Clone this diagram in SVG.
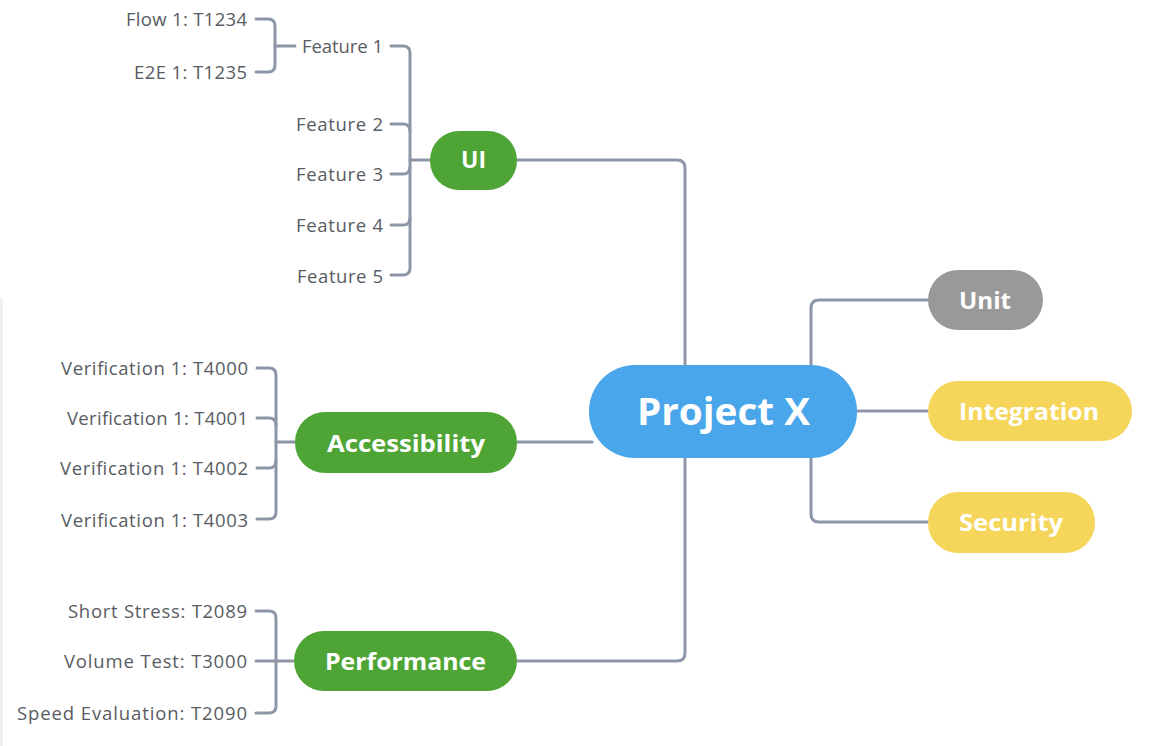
<svg xmlns="http://www.w3.org/2000/svg" width="1169" height="746" viewBox="0 0 1169 746">
  <style>
    .link { fill: none; stroke: #8d96a7; stroke-width: 3; stroke-linecap: round; stroke-linejoin: round; }
    .leaf { font-family: "Open Sans", Lato, sans-serif; font-size: 18.5px; fill: #585c62; text-anchor: end; dominant-baseline: central; }
    .label { font-family: "Open Sans", Lato, sans-serif; font-weight: 700; fill: #ffffff; text-anchor: middle; dominant-baseline: central; }
    .green { fill: #4ea535; }
    .yellow { fill: #f5d65a; }
    .grey { fill: #999999; }
    .blue { fill: #4aa6ea; }
  </style>

  <rect x="0" y="0" width="1169" height="746" fill="#ffffff"/>
  <rect x="0" y="297" width="3" height="449" fill="#f1f1f1"/>

  <!-- connectors -->
  <g id="connectors">
    <!-- root to main branches -->
    <path class="link" d="M517,160 H677 Q685,160 685,168 V366"/>
    <path class="link" d="M517,442 H592"/>
    <path class="link" d="M517,661 H677 Q685,661 685,653 V457"/>
    <path class="link" d="M811,366 V308 Q811,300 819,300 H929"/>
    <path class="link" d="M856,411 H929"/>
    <path class="link" d="M811,457 V514 Q811,522 819,522 H929"/>

    <!-- UI features -->
    <path class="link" d="M391,46 H403 Q410,46 410,53 V268 Q410,275 403,275 H391"/>
    <path class="link" d="M391,124 H403 Q410,124 410,131"/>
    <path class="link" d="M391,174 H403 Q410,174 410,167"/>
    <path class="link" d="M391,225 H403 Q410,225 410,218"/>
    <path class="link" d="M410,160 H431"/>

    <!-- Feature 1 tests -->
    <path class="link" d="M256,19 H268 Q275,19 275,26 V65 Q275,72 268,72 H256"/>
    <path class="link" d="M275,46 H295"/>

    <!-- Accessibility checks -->
    <path class="link" d="M257,368 H269 Q276,368 276,375 V512 Q276,519 269,519 H257"/>
    <path class="link" d="M257,418 H269 Q276,418 276,425"/>
    <path class="link" d="M257,468 H269 Q276,468 276,461"/>
    <path class="link" d="M276,442 H296"/>

    <!-- Performance tests -->
    <path class="link" d="M256,611 H269 Q276,611 276,618 V706 Q276,713 269,713 H256"/>
    <path class="link" d="M256,661 H295"/>
  </g>

  <!-- root -->
  <g id="project-x">
    <rect class="blue" x="589" y="365" width="268" height="93" rx="46"/>
    <text class="label" x="723.5" y="410" font-size="37" textLength="173" lengthAdjust="spacingAndGlyphs">Project X</text>
  </g>

  <!-- main branches -->
  <g id="ui">
    <rect class="green" x="430" y="131" width="87" height="59" rx="29"/>
    <text class="label" x="473.5" y="159" font-size="23" textLength="25" lengthAdjust="spacingAndGlyphs">UI</text>
  </g>
  <g id="accessibility">
    <rect class="green" x="295" y="412" width="222" height="61" rx="30"/>
    <text class="label" x="406" y="442" font-size="24" textLength="158" lengthAdjust="spacingAndGlyphs">Accessibility</text>
  </g>
  <g id="performance">
    <rect class="green" x="294" y="631" width="223" height="60" rx="30"/>
    <text class="label" x="405.5" y="660" font-size="24" textLength="161" lengthAdjust="spacingAndGlyphs">Performance</text>
  </g>
  <g id="unit">
    <rect class="grey" x="928" y="270" width="115" height="60" rx="30"/>
    <text class="label" x="985" y="299" font-size="24" textLength="52" lengthAdjust="spacingAndGlyphs">Unit</text>
  </g>
  <g id="integration">
    <rect class="yellow" x="928" y="381" width="204" height="60" rx="30"/>
    <text class="label" x="1029" y="410" font-size="24" textLength="140" lengthAdjust="spacingAndGlyphs">Integration</text>
  </g>
  <g id="security">
    <rect class="yellow" x="928" y="492" width="167" height="61" rx="30"/>
    <text class="label" x="1011" y="521" font-size="24" textLength="104" lengthAdjust="spacingAndGlyphs">Security</text>
  </g>

  <!-- UI features -->
  <g id="feature-1"><text class="leaf" x="383" y="45" textLength="81">Feature 1</text></g>
  <g id="feature-2"><text class="leaf" x="383" y="123" textLength="87">Feature 2</text></g>
  <g id="feature-3"><text class="leaf" x="383" y="173" textLength="87">Feature 3</text></g>
  <g id="feature-4"><text class="leaf" x="383" y="224" textLength="87">Feature 4</text></g>
  <g id="feature-5"><text class="leaf" x="383" y="275" textLength="86">Feature 5</text></g>

  <!-- Feature 1 tests -->
  <g id="flow-1"><text class="leaf" x="247" y="18" textLength="121">Flow 1: T1234</text></g>
  <g id="e2e-1"><text class="leaf" x="247" y="71" textLength="113">E2E 1: T1235</text></g>

  <!-- Accessibility checks -->
  <g id="verification-4000"><text class="leaf" x="248" y="367" textLength="187">Verification 1: T4000</text></g>
  <g id="verification-4001"><text class="leaf" x="248" y="417" textLength="181">Verification 1: T4001</text></g>
  <g id="verification-4002"><text class="leaf" x="248" y="467" textLength="188">Verification 1: T4002</text></g>
  <g id="verification-4003"><text class="leaf" x="248" y="519" textLength="187">Verification 1: T4003</text></g>

  <!-- Performance tests -->
  <g id="short-stress"><text class="leaf" x="247" y="610" textLength="179">Short Stress: T2089</text></g>
  <g id="volume-test"><text class="leaf" x="247" y="660" textLength="183">Volume Test: T3000</text></g>
  <g id="speed-evaluation"><text class="leaf" x="247" y="712" textLength="230">Speed Evaluation: T2090</text></g>
</svg>
